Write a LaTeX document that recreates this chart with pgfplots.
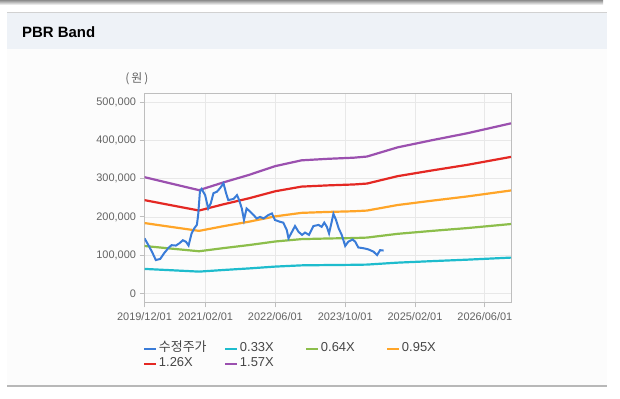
\documentclass[border=0pt]{standalone}
\usepackage{pgfplots}
\pgfplotsset{compat=1.18}
\usepackage{fontspec}
\setmainfont{Liberation Sans}
\newfontfamily\kr{Noto Sans CJK KR}
\definecolor{cprice}{RGB}{58,124,216}
\definecolor{cA}{RGB}{30,188,205}
\definecolor{cB}{RGB}{140,190,75}
\definecolor{cC}{RGB}{255,165,40}
\definecolor{cD}{RGB}{228,40,35}
\definecolor{cE}{RGB}{155,80,175}
\definecolor{headbg}{RGB}{238,242,247}
\definecolor{bodybg}{RGB}{252,252,252}
\definecolor{gridc}{RGB}{232,232,232}
\definecolor{axisc}{RGB}{190,190,190}
\definecolor{labc}{RGB}{100,100,100}
\definecolor{legc}{RGB}{70,70,70}
\begin{document}
\begin{tikzpicture}[x=1bp,y=1bp]
\useasboundingbox (0,0) rectangle (620,398);
\fill[white] (0,0) rectangle (620,398);
\shade[top color=black!45, bottom color=white] (0,398) rectangle (603,393);
\fill[headbg] (7,385) rectangle (607,349);
\draw[black!18, line width=1bp] (7,385) -- (607,385);
\fill[bodybg] (7,349) rectangle (607,12);
\draw[black!28, line width=1.5bp] (7,12) -- (607,12);
\node[anchor=base west, inner sep=0pt, font=\fontsize{15}{17}\selectfont\bfseries] at (22,361) {PBR Band};
\node[anchor=center, inner sep=0pt, text=labc, font=\fontsize{12}{14}\selectfont\kr] at (137,319) {(\hspace{2bp}원\hspace{2bp})};
\begin{axis}[
  at={(144.5bp,95.7bp)}, anchor=south west,
  scale only axis, width=366.5bp, height=209bp,
  xmin=0, xmax=84, ymin=-23500, ymax=523500,
  xtick={0,14,30,46,62,78},
  xticklabels={2019/12/01,2021/02/01,2022/06/01,2023/10/01,2025/02/01,2026/06/01},
  ytick={0,100000,200000,300000,400000,500000},
  yticklabels={0,{100,000},{200,000},{300,000},{400,000},{500,000}},
  scaled y ticks=false,
  grid=major, major grid style={draw=gridc, line width=0.8bp},
  axis line style={draw=axisc, line width=1bp},
  tick style={draw=axisc, line width=1bp},
  tick align=outside, tick pos=left, major tick length=5bp,
  tick label style={font=\fontsize{11}{13}\selectfont, text=labc},
  xticklabel style={yshift=-2bp},
  legend columns=4,
  legend cell align=left,
  legend image code/.code={\draw[#1, line width=2bp] (0bp,0bp) -- (12bp,0bp);},
  legend style={at={(axis description cs:-0.0033,-0.183)}, anchor=north west,
    draw=none, fill=none, inner sep=0pt, column sep=0bp, row sep=0bp,
    font=\fontsize{13}{15}\selectfont, text=legc,
    nodes={inner xsep=1.5bp, inner ysep=1.5bp, text height=9bp, text depth=3.5bp, text width=64bp, align=left}},
]
\addlegendimage{cprice}
\addlegendentry{{\kr 수정주가}}
\addlegendimage{cA}
\addlegendentry{0.33X}
\addlegendimage{cB}
\addlegendentry{0.64X}
\addlegendimage{cC}
\addlegendentry{0.95X}
\addlegendimage{cD}
\addlegendentry{1.26X}
\addlegendimage{cE}
\addlegendentry{1.57X}
\addplot[cA, line width=2.2bp, mark=none, forget plot] coordinates {
(0,63900)(6,60500)(12.5,56800)(18,61000)(24,65200)(30,70000)(36,73200)(42,74000)(48,74600)(51,75200)(58,80300)(66,84300)(74,88100)(84,93500)};
\addplot[cB, line width=2.2bp, mark=none, forget plot] coordinates {
(0,123900)(6,117200)(12.5,110100)(18,118200)(24,126400)(30,135700)(36,141900)(42,143500)(48,144700)(51,145900)(58,155700)(66,163500)(74,170800)(84,181400)};
\addplot[cC, line width=2.2bp, mark=none, forget plot] coordinates {
(0,183900)(6,174000)(12.5,163400)(18,175500)(24,187600)(30,201500)(36,210600)(42,213000)(48,214800)(51,216600)(58,231100)(66,242600)(74,253600)(84,269200)};
\addplot[cD, line width=2.2bp, mark=none, forget plot] coordinates {
(0,243900)(6,230800)(12.5,216700)(18,232700)(24,248900)(30,267200)(36,279300)(42,282500)(48,284900)(51,287300)(58,306600)(66,321800)(74,336300)(84,357100)};
\addplot[cE, line width=2.2bp, mark=none, forget plot] coordinates {
(0,304000)(6,287600)(12.5,270000)(18,290000)(24,310100)(30,333000)(36,348100)(42,352000)(48,355000)(51,358000)(58,382000)(66,401000)(74,419000)(84,444900)};
\addplot[cprice, line width=2bp, mark=none, forget plot] coordinates {
(0,144000)(0.9,126000)(1.7,109000)(2.6,87000)(3.6,90000)(4.5,105000)(5.5,119000)(6.2,126000)(7.2,125000)(8.0,131000)(8.8,139000)(9.5,135000)(10.1,125000)(10.4,139000)(10.8,157000)(11.4,170000)(12.0,179000)(12.3,205000)(12.7,266000)(13.1,273000)(13.9,257000)(14.6,222000)(15.2,236000)(15.8,262000)(16.6,266000)(17.3,275000)(18.1,288000)(18.7,262000)(19.2,244000)(20.4,247000)(21.2,257000)(21.7,244000)(22.3,222000)(22.8,192000)(23.4,222000)(24.2,214000)(25.0,205000)(25.7,196000)(26.5,200000)(27.3,196000)(28.4,205000)(29.2,209000)(29.9,192000)(31.1,187000)(31.8,185000)(32.6,166000)(33.0,144000)(33.8,161000)(34.5,176000)(35.3,161000)(36.1,153000)(36.8,159000)(37.7,153000)(38.7,176000)(39.9,179000)(40.6,174000)(41.2,185000)(41.8,174000)(42.3,157000)(42.9,187000)(43.3,208000)(43.9,192000)(44.5,170000)(45.2,153000)(46.0,124000)(46.7,135000)(47.7,141000)(48.3,135000)(49.0,120000)(50.2,118000)(51.3,115000)(52.5,109000)(53.3,100000)(54.0,113000)(54.8,112000)};
\end{axis}
\end{tikzpicture}
\end{document}
